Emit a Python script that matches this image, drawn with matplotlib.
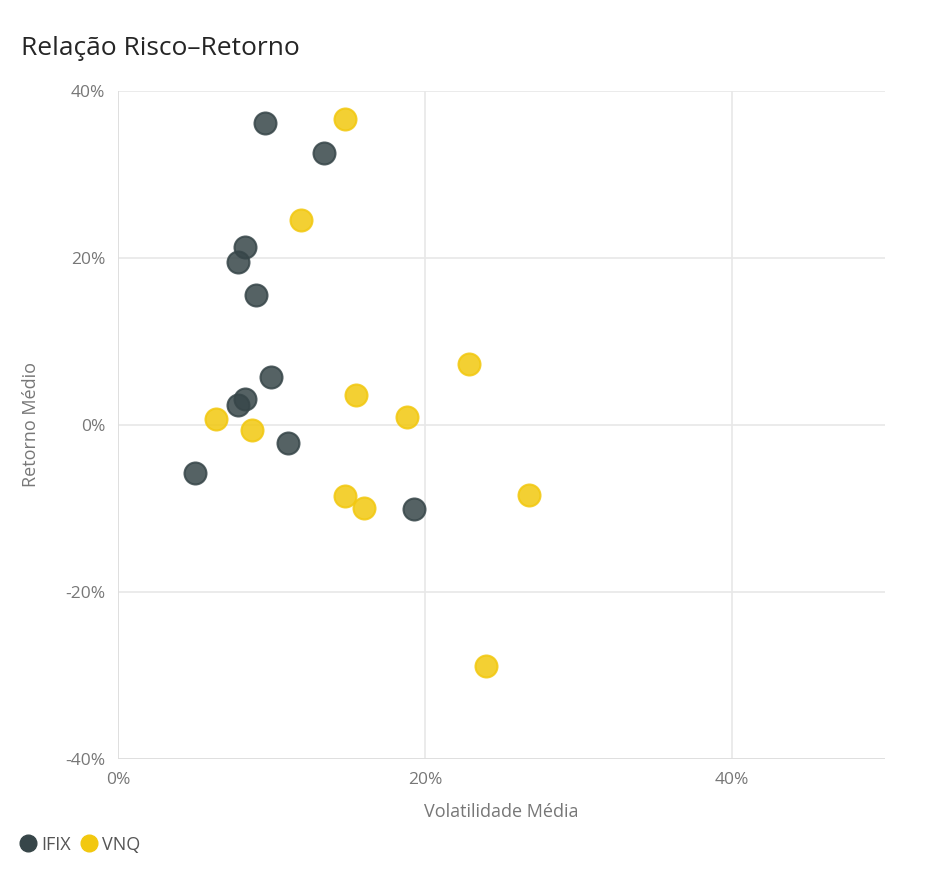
import matplotlib
matplotlib.use("Agg")
import matplotlib.pyplot as plt
from matplotlib.ticker import FuncFormatter
from matplotlib.lines import Line2D

plt.rcParams["font.family"] = ["Open Sans", "DejaVu Sans"]

# volatility (%) / return (%) per series
ifix_vol = [9.6, 13.4, 8.3, 7.8, 9.0, 10.0, 8.3, 7.8, 11.1, 5.0, 19.3]
ifix_ret = [36.2, 32.6, 21.3, 19.5, 15.6, 5.7, 3.1, 2.4, -2.1, -5.8, -10.1]
vnq_vol = [14.8, 11.9, 22.9, 15.5, 18.8, 6.4, 8.7, 14.8, 16.0, 26.8, 24.0]
vnq_ret = [36.7, 24.6, 7.3, 3.6, 0.9, 0.7, -0.6, -8.5, -10.0, -8.4, -28.9]

DARK = "#374649"
YEL = "#F2C80F"
GRID = "#e8e8e8"
TXT = "#777777"

fig = plt.figure(figsize=(9.47, 8.8), dpi=100)
ax = fig.add_axes([0.1246, 0.1375, 0.8104, 0.7591])

ax.scatter(ifix_vol, ifix_ret, s=250, facecolor=DARK, alpha=0.85,
           edgecolor=DARK, linewidth=1.5, zorder=3)
ax.scatter(vnq_vol, vnq_ret, s=250, facecolor=YEL, alpha=0.85,
           edgecolor=YEL, linewidth=1.5, zorder=3)

ax.set_xlim(0, 50)
ax.set_ylim(-40, 40)
ax.set_xticks([0, 20, 40])
ax.set_yticks([-40, -20, 0, 20, 40])
pct = FuncFormatter(lambda v, p: f"{v:.0f}%")
ax.xaxis.set_major_formatter(pct)
ax.yaxis.set_major_formatter(pct)
ax.grid(True, color=GRID, lw=1.2)
ax.set_axisbelow(True)
for s in ax.spines.values():
    s.set_visible(False)
ax.tick_params(length=0, colors=TXT, labelsize=12.5, pad=9)
ax.axvline(0, color="#dddddd", lw=1.2, zorder=1)
ax.axhline(-40, color="#dddddd", lw=1.2, zorder=1)

ax.set_xlabel("Volatilidade Média", color=TXT, fontsize=13)
ax.set_ylabel("Retorno Médio", color=TXT, fontsize=13)
ax.xaxis.set_label_coords(0.5, -0.066)
ax.yaxis.set_label_coords(-0.102, 0.5)

fig.text(0.022, 0.945, "Relação Risco–Retorno", fontsize=19,
         color="#252525", va="center")

handles = [Line2D([], [], marker="o", ls="", markersize=12, color=c)
           for c in (DARK, YEL)]
fig.legend(handles, ["IFIX", "VNQ"], loc="center left",
           bbox_to_anchor=(0.012, 0.04), ncol=2, frameon=False,
           handletextpad=0.25, columnspacing=0.5, fontsize=13,
           labelcolor="#555555", handlelength=1.0, borderaxespad=0)

fig.savefig("out.png", dpi=100)
